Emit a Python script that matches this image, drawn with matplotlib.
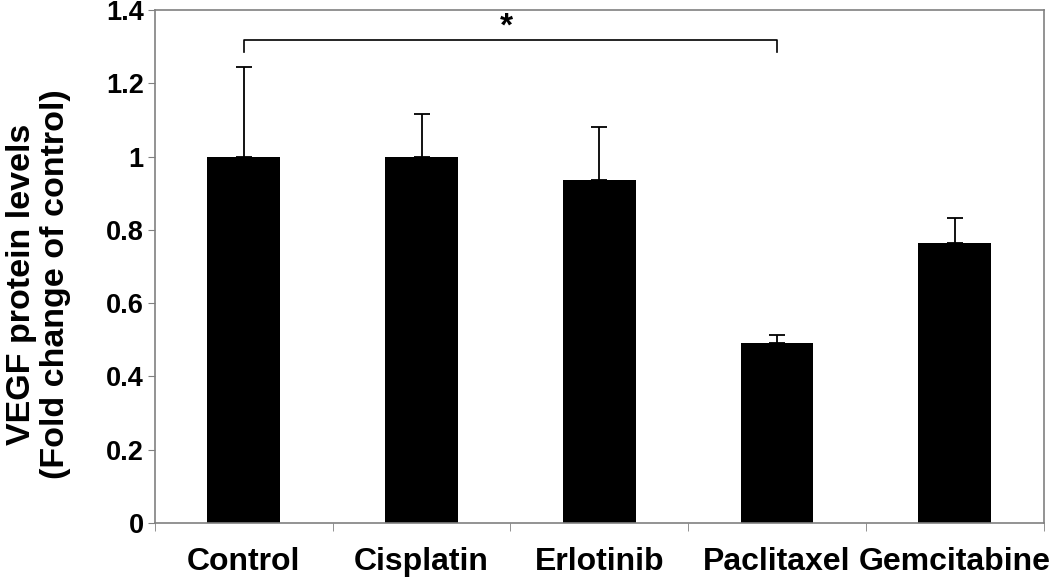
import numpy as np
import matplotlib.pyplot as plt

plt.rcParams['font.family'] = ['Liberation Sans', 'DejaVu Sans']
plt.rcParams['font.weight'] = 'bold'

# data
treatments = ["Control", "Cisplatin", "Erlotinib", "Paclitaxel", "Gemcitabine"]
vegf_fold = [1.0, 1.0, 0.935, 0.49, 0.765]
vegf_err = [0.245, 0.115, 0.145, 0.023, 0.067]

fig = plt.figure(figsize=(10.63, 5.86), dpi=100)
ax = fig.add_axes([0.1458, 0.1075, 0.836, 0.8755])

x = np.arange(len(treatments))
ax.bar(x, vegf_fold, width=0.41, color="black", zorder=2)
ax.errorbar(x, vegf_fold, yerr=[np.zeros(len(x)), vegf_err], fmt="none",
            ecolor="black", elinewidth=1.3, capsize=6, capthick=1.3, zorder=3)

# significance bracket Control vs Paclitaxel
ax.plot([0, 0, 3, 3], [1.285, 1.318, 1.318, 1.285], color="black", lw=1.2)
ax.text(1.48, 1.352, "*", ha="center", va="center", fontsize=24, fontweight="bold")

ax.set_xlim(-0.5, 4.5)
ax.set_ylim(0, 1.4)
ax.set_yticks(np.arange(0, 1.41, 0.2))
ax.set_yticklabels(["0", "0.2", "0.4", "0.6", "0.8", "1", "1.2", "1.4"])
ax.tick_params(axis="y", labelsize=19.5, length=5, color="#808080", pad=3)

ax.set_xticks(x)
ax.set_xticklabels(treatments, fontsize=23)
ax.tick_params(axis="x", length=0, pad=17)
ax.set_xticks(np.arange(-0.5, 4.6, 1), minor=True)
ax.tick_params(axis="x", which="minor", length=6, color="#808080")

for s in ax.spines.values():
    s.set_color("#808080")
    s.set_linewidth(1.2)

ax.set_ylabel("VEGF protein levels\n(Fold change of control)", fontsize=24.5,
              fontweight="bold", linespacing=1.12)
ax.yaxis.set_label_coords(-0.0945, 0.466)

fig.savefig("out.png", dpi=100)
